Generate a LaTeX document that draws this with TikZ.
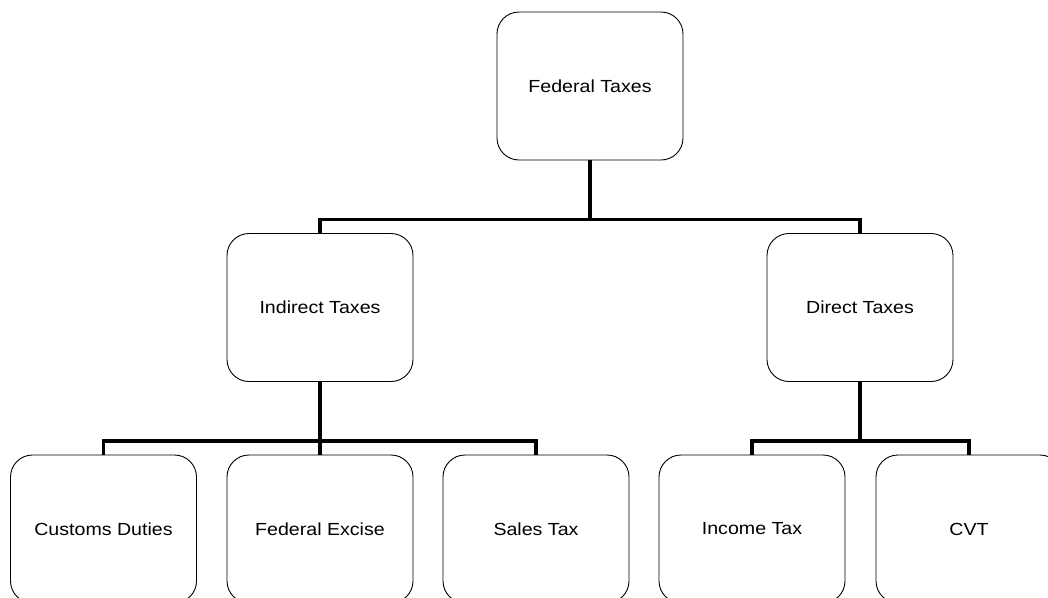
\documentclass[tikz,border=0pt]{standalone}
\usepackage{fontspec}
\setmainfont{Liberation Sans}[FakeStretch=1.12]
\usepackage{tikz}

\begin{document}
\begin{tikzpicture}[
					x=1pt,y=-1pt,
					tbox/.style={rectangle,rounded corners=22pt,draw,line width=0.9pt,minimum width=186pt,minimum height=148pt,inner sep=0pt,font=\fontsize{17.5}{20}\selectfont},
					tlink/.style={draw,line width=3.6pt}
					]
					\useasboundingbox (0,0) rectangle (1048,597);
					\clip (0,0) rectangle (1048,597);
					\node[tbox] (fed) at (590,86) {Federal Taxes};
					\node[tbox] (ind) at (320,307.5) {Indirect Taxes};
					\node[tbox] (dir) at (860,307.5) {Direct Taxes};
					\foreach \n/\x/\t in {cus/103.5/Customs Duties,exc/320/Federal Excise,sal/536/Sales Tax,inc/752/Income Tax,cvt/969/CVT}{
						\node[tbox] (\n) at (\x,529) {\t};
					}
					\foreach \i/\j in {fed/ind,fed/dir,ind/cus,ind/exc,ind/sal,dir/inc,dir/cvt}{
						\draw[tlink] (\i.south) -- ++(0,59) -| (\j.north);
					}
				\end{tikzpicture}
\end{document}
